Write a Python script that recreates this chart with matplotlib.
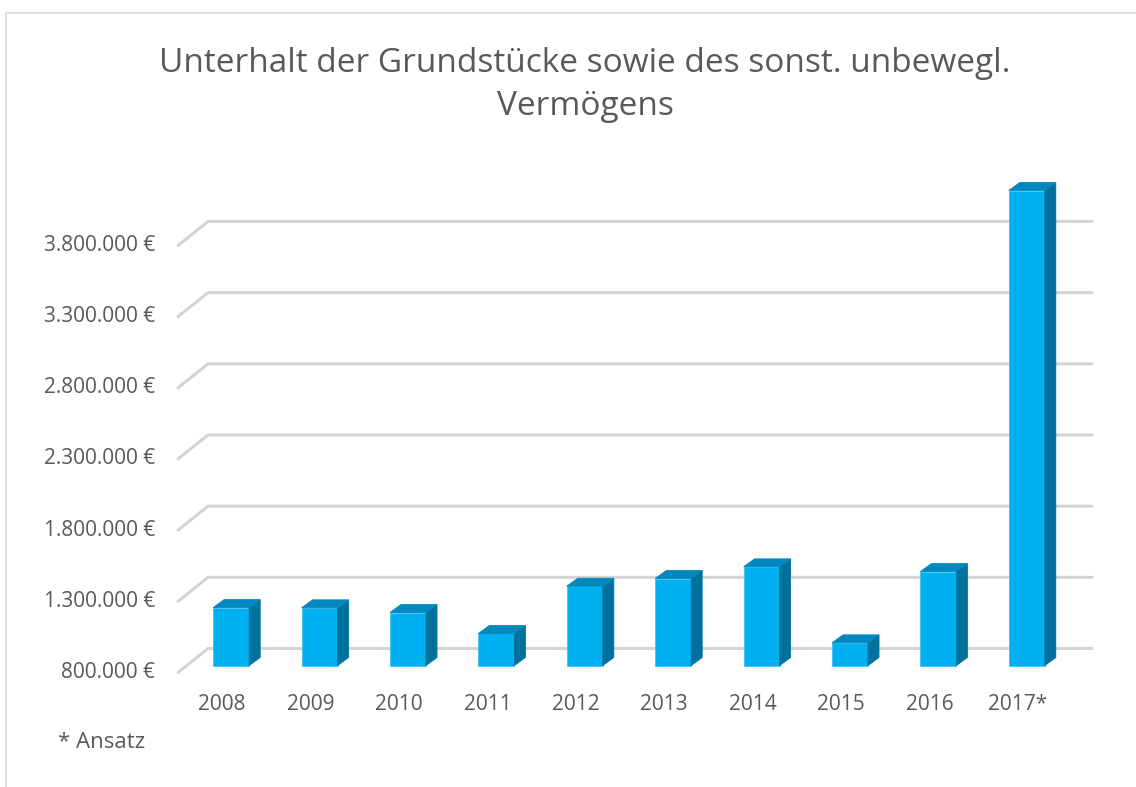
import matplotlib.pyplot as plt
from matplotlib.patches import Polygon, Rectangle
import numpy as np

plt.rcParams['font.family'] = ['Open Sans', 'DejaVu Sans']

years = ['2008', '2009', '2010', '2011', '2012', '2013', '2014', '2015', '2016', '2017*']
values = [1207000, 1205000, 1172000, 1025000, 1357000, 1411000, 1493000, 959000, 1460000, 4137000]
tick_values = [800000, 1300000, 1800000, 2300000, 2800000, 3300000, 3800000]
title = 'Unterhalt der Grundstücke sowie des sonst. unbewegl.\nVermögens'
note = '* Ansatz'

W, H = 1136, 787
fig = plt.figure(figsize=(W / 100, H / 100), dpi=100)

# front plane of the 3d box, in pixels
left, right = 178, 1062
y_base, y_top = 672.5, 174.3
ax = fig.add_axes([left / W, 1 - y_base / H, (right - left) / W, (y_base - y_top) / H])
ymin, ymax = 800000, 4300000
ax.set_xlim(-0.5, 9.5)
ax.set_ylim(ymin, ymax)
ax.axis('off')

# pixel -> data scale
sx = 10 / (right - left)
sy = (ymax - ymin) / (y_base - y_top)

def fmt(v):
    return '{:,}'.format(v).replace(',', '.') + ' €'

# back wall depth
DX, DY = 30 * sx, 24 * sy
grid_col = '#d4d4d4'
for v in tick_values:
    ax.plot([-0.5, -0.5 + DX, 9.5 + DX], [v, v + DY, v + DY], color=grid_col,
            lw=2.2, clip_on=False, zorder=1, solid_capstyle='round')
    ax.text(-0.5 - 23 * sx, v, fmt(v), ha='right', va='center', fontsize=15, color='#595959')

# bars: front face shifted into depth, with side and top
off_x, off_y = 9 * sx, 7 * sy
bw = 36 * sx
ddx, ddy = 11 * sx, 8 * sy
front_col, side_col, top_col = '#00b0f0', '#00719c', '#0088bf'
x = np.arange(len(years))
for i, v in zip(x, values):
    x0 = i + off_x - bw / 2
    x1 = x0 + bw
    y0 = ymin + off_y
    y1 = v + off_y
    ax.add_patch(Rectangle((x0, y0), bw, y1 - y0, facecolor=front_col, edgecolor='#3fc3f2',
                           lw=0.6, zorder=3, clip_on=False))
    ax.add_patch(Polygon([(x1, y0), (x1 + ddx, y0 + ddy), (x1 + ddx, y1 + ddy), (x1, y1)],
                         facecolor=side_col, edgecolor=side_col, lw=0.6, zorder=3, clip_on=False))
    ax.add_patch(Polygon([(x0, y1), (x0 + ddx, y1 + ddy), (x1 + ddx, y1 + ddy), (x1, y1)],
                         facecolor=top_col, edgecolor=top_col, lw=0.6, zorder=3, clip_on=False))
    ax.text(i, ymin - 32 * sy, years[i], ha='center', va='center', fontsize=15, color='#595959')

fig.text(585 / W, 1 - 85 / H, title, ha='center', va='center', fontsize=24,
         color='#595959', linespacing=1.37)
fig.text(58 / W, 1 - 743 / H, note, ha='left', va='center', fontsize=16, color='#595959')

# chart area border
fig.add_artist(Rectangle((5.5 / W, -0.1), 1.2, 1 - 12.5 / H + 0.1, transform=fig.transFigure,
                         fill=False, edgecolor='#d9d9d9', lw=1.2))

fig.savefig('out.png', dpi=100)
